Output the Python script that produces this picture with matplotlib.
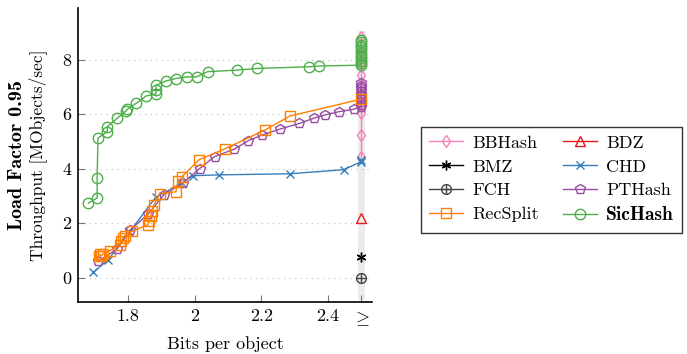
import matplotlib
matplotlib.use('Agg')
from matplotlib import pyplot as plt

plt.rcParams['font.family'] = ['cmr10', 'DejaVu Serif']
plt.rcParams['mathtext.fontset'] = 'cm'
plt.rcParams['axes.unicode_minus'] = False

# values (x: bits per object, y: MObjects/sec)
bbhash_x = [2.5] * 10
bbhash_y = [4.43, 5.24, 6.04, 6.3, 6.7, 7.1, 7.44, 7.9, 8.3, 8.84]

bdz_x = [2.5]
bdz_y = [2.17]

bmz_x = [2.5]
bmz_y = [0.77]

chd_x = [1.696, 1.741, 1.804, 1.883, 1.962, 1.995, 2.073, 2.286, 2.448, 2.5, 2.5]
chd_y = [0.19, 0.66, 1.66, 2.94, 3.47, 3.74, 3.77, 3.81, 3.96, 4.25, 4.32]

fch_x = [2.5]
fch_y = [0.0]

pthash_x = [1.711, 1.766, 1.806, 1.861, 1.907, 1.965, 2.015, 2.06, 2.12, 2.162,
            2.204, 2.256, 2.315, 2.358, 2.391, 2.433, 2.478,
            2.5, 2.5, 2.5, 2.5, 2.5, 2.5, 2.5, 2.5, 2.5, 2.5]
pthash_y = [0.60, 1.03, 1.74, 2.33, 3.03, 3.47, 4.00, 4.44, 4.72, 5.03,
            5.24, 5.45, 5.66, 5.85, 5.97, 6.09, 6.18,
            6.27, 6.35, 6.45, 6.55, 6.65, 6.75, 6.85, 6.95, 7.05, 7.15]

recsplit_x = [1.712, 1.715, 1.72, 1.725, 1.745, 1.775, 1.78, 1.785, 1.79, 1.813,
              1.86, 1.863, 1.868, 1.872, 1.878, 1.896, 1.944, 1.95, 1.963,
              2.014, 2.09, 2.212, 2.286, 2.5]
recsplit_y = [0.80, 0.86, 0.78, 0.88, 0.98, 1.21, 1.33, 1.45, 1.54, 1.70,
              1.94, 2.06, 2.25, 2.43, 2.67, 3.08, 3.15, 3.53, 3.71,
              4.33, 4.72, 5.42, 5.93, 6.55]

sichash_x = [1.681, 1.7075, 1.7075, 1.710, 1.738, 1.738, 1.768, 1.795, 1.798,
             1.825, 1.855, 1.884, 1.884, 1.884, 1.914, 1.944, 1.977, 2.006,
             2.039, 2.129, 2.189, 2.343, 2.373,
             2.5, 2.5, 2.5, 2.5, 2.5, 2.5, 2.5, 2.5, 2.5, 2.5, 2.5]
sichash_y = [2.73, 2.92, 3.65, 5.12, 5.36, 5.54, 5.85, 6.13, 6.18,
             6.40, 6.67, 6.74, 6.89, 7.06, 7.22, 7.31, 7.37, 7.37,
             7.56, 7.62, 7.68, 7.74, 7.77,
             7.80, 7.87, 7.95, 8.05, 8.15, 8.25, 8.35, 8.45, 8.55, 8.65, 8.72]

xticks = [1.8, 2.0, 2.2, 2.4, 2.5]
xtick_labels = ['1.8', '2', '2.2', '2.4', r'$\geq$']
yticks = [0, 2, 4, 6, 8]

fs = 13

fig = plt.figure(figsize=(6.87, 3.54), dpi=100)
ax = fig.add_axes([78 / 687, 52 / 354, 294 / 687, 294 / 354])

ax.set_xlim(1.65, 2.533)
ax.set_ylim(-0.9, 9.9)

# light band marking the ">=" column
ax.axvline(2.5, ymin=0.02, ymax=0.91, color='#ebebeb', lw=5, zorder=0)
for y in yticks:
    ax.axhline(y, color='#bdbdbd', lw=0.8, linestyle=(0, (1, 4)), zorder=0)

ms = 7
lw = 1.0
series = [
    ('BBHash', bbhash_x, bbhash_y, '#f781bf', 'd', 6.5),
    ('BDZ', bdz_x, bdz_y, '#e41a1c', '^', ms),
    ('BMZ', bmz_x, bmz_y, 'black', (6, 2, 0), ms),
    ('CHD', chd_x, chd_y, '#377eb8', 'x', 5.5),
    ('FCH', fch_x, fch_y, '#444444', 'o', 7),
    ('PTHash', pthash_x, pthash_y, '#984ea3', 'p', ms),
    ('RecSplit', recsplit_x, recsplit_y, '#ff7f00', 's', ms),
    ('SicHash', sichash_x, sichash_y, '#4daf4a', 'o', 7.5),
]
handles = {}
for name, xs, ys, col, mk, size in series:
    filled = mk == 'x' or isinstance(mk, tuple)
    h, = ax.plot(xs, ys, color=col, lw=lw, marker=mk, markersize=size,
                 markerfacecolor=col if filled else 'none', markeredgecolor=col,
                 markeredgewidth=1.0)
    handles[name] = h

# FCH uses an oplus marker: circle with a plus inside
plus, = ax.plot(fch_x, fch_y, ls='none', marker='+', markersize=7,
                color='#444444', markeredgewidth=1.0)
handles['FCH'] = (handles['FCH'], plus)

for side in ['top', 'right']:
    ax.spines[side].set_visible(False)
for side in ['left', 'bottom']:
    ax.spines[side].set_linewidth(1.2)

ax.set_xticks(xticks)
ax.set_xticklabels(xtick_labels)
ax.set_yticks(yticks)
ax.set_yticklabels([str(v) for v in yticks])
ax.tick_params(direction='in', length=5, width=0.8, color='#777777',
               labelsize=fs, labelcolor='black', pad=5)

ax.set_xlabel('Bits per object', fontsize=fs, labelpad=6)
ax.text(-0.207, 0.5, 'Load Factor 0.95', transform=ax.transAxes, rotation=90,
        ha='center', va='center', fontsize=14.5, family='cmb10')
ax.text(-0.136, 0.5, 'Throughput [MObjects/sec]', transform=ax.transAxes,
        rotation=90, ha='center', va='center', fontsize=12.5)

# legend filled row by row (matplotlib fills columns, so interleave)
order = ['BBHash', 'BMZ', 'FCH', 'RecSplit', 'BDZ', 'CHD', 'PTHash', 'SicHash']
leg = ax.legend([handles[n] for n in order], order,
                loc='upper left', bbox_to_anchor=(421 / 687, 1 - 127 / 354),
                bbox_transform=fig.transFigure, borderaxespad=0, ncol=2,
                fontsize=fs, frameon=True, fancybox=False, edgecolor='black',
                handlelength=1.9, columnspacing=1.3, handletextpad=0.5,
                labelspacing=0.45, borderpad=0.45)
leg.get_frame().set_linewidth(1.0)
for t in leg.get_texts():
    if t.get_text() == 'SicHash':
        t.set_family('cmb10')
        t.set_fontsize(14)

fig.savefig('out.png', dpi=100)
